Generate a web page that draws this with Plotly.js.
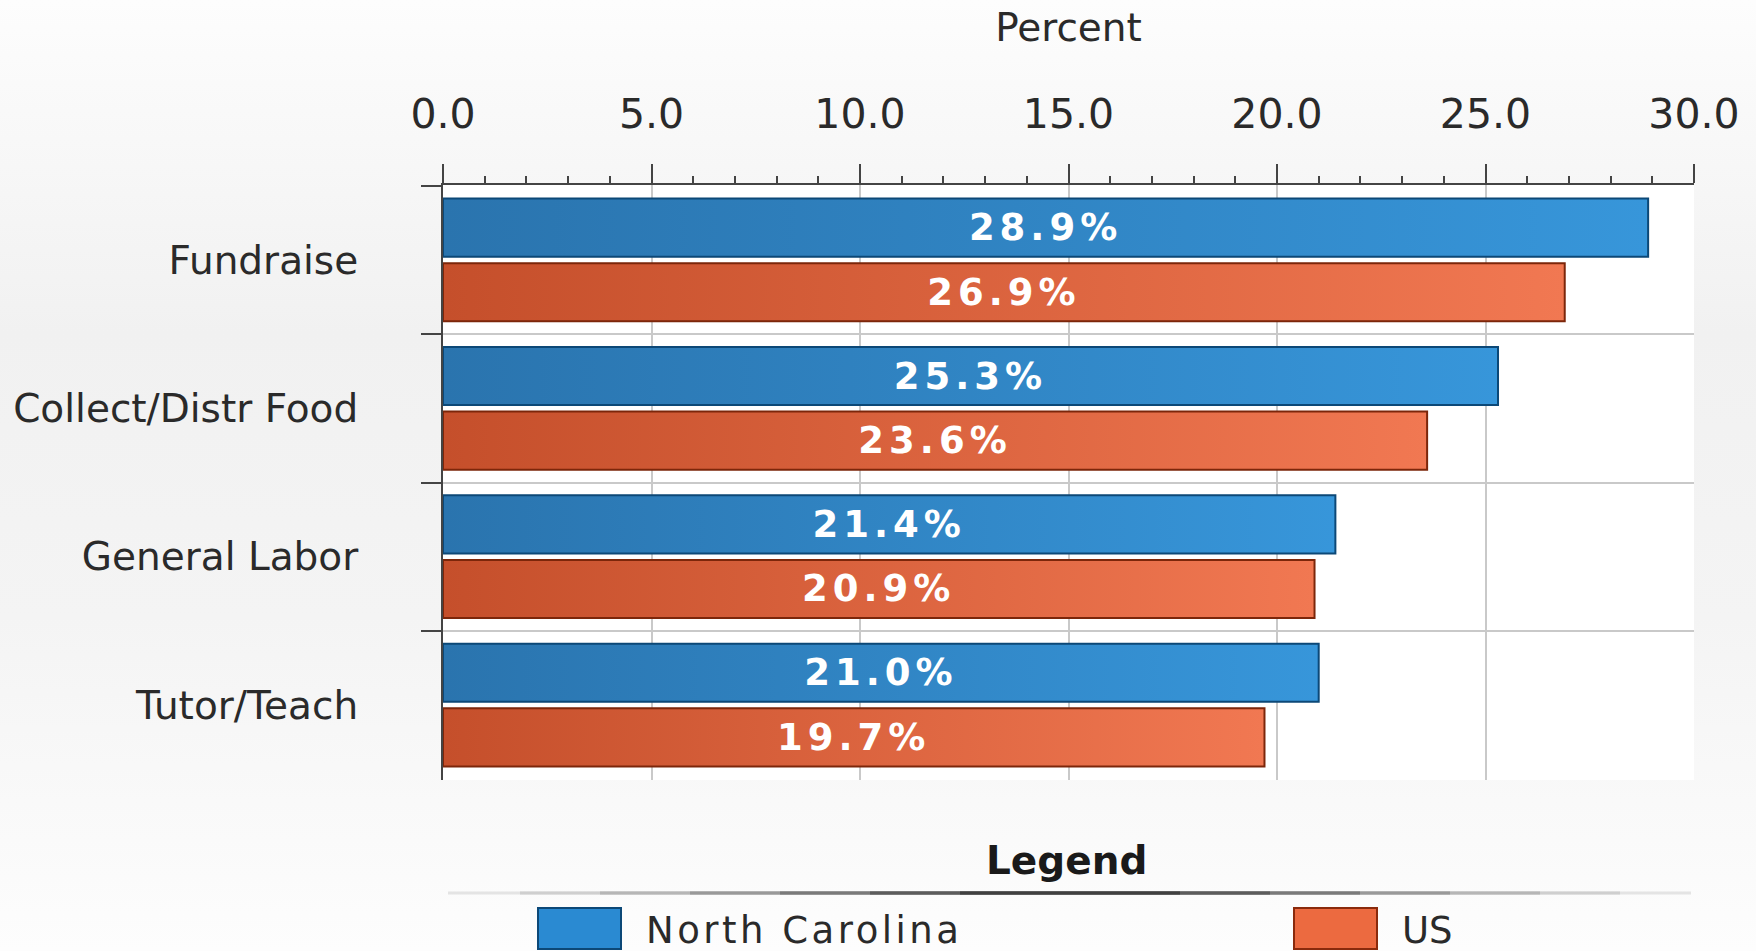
<!DOCTYPE html>
<html>
<head>
<meta charset="utf-8">
<script src="https://cdn.plot.ly/plotly-3.0.1.min.js"></script>
<style>
  html, body { margin: 0; padding: 0; }
  body {
    width: 1756px; height: 951px; overflow: hidden;
    background: linear-gradient(to bottom, #fdfdfd 0%, #f1f1f1 35%, #f4f4f4 65%, #fdfdfd 100%);
  }
  #chart { width: 1756px; height: 951px; }
  .bartext { letter-spacing: 5px; }
  .legendtext { letter-spacing: 3.5px; }
</style>
</head>
<body>
<div id="chart"></div>
<script>
// Volunteer activities: share of volunteers, North Carolina vs. US
const activities = ["Fundraise", "Collect/Distr Food", "General Labor", "Tutor/Teach"];
const northCarolina = [28.9, 25.3, 21.4, 21.0];
const unitedStates = [26.9, 23.6, 20.9, 19.7];
const seriesNames = ["North Carolina", "US"];
const axisTicks = [0, 5, 10, 15, 20, 25, 30];

const FONT = "DejaVu Sans, Verdana, sans-serif";
const W = 1756, H = 951;
const M = { l: 443, r: 62, t: 185, b: 171 };
const plotW = W - M.l - M.r, plotH = H - M.t - M.b;

// pixel position on the page -> paper coordinates of the plot area
const fx = v => (v - M.l) / plotW;
const fy = v => (H - M.b - v) / plotH;

const barText = { family: FONT, size: 37, color: "#ffffff", weight: "bold" };

const blueSeries = {
  type: "bar",
  orientation: "h",
  name: seriesNames[0],
  y: activities,
  x: northCarolina,
  marker: { color: "#3088c9", line: { color: "#0c4877", width: 2 } },
  texttemplate: "%{x:.1f}%",
  textposition: "inside",
  insidetextanchor: "middle",
  textfont: barText,
  legend: "legend",
  hoverinfo: "x+y+name"
};

const orangeSeries = {
  type: "bar",
  orientation: "h",
  name: seriesNames[1],
  y: activities,
  x: unitedStates,
  marker: { color: "#df6640", line: { color: "#7c260a", width: 2 } },
  texttemplate: "%{x:.1f}%",
  textposition: "inside",
  insidetextanchor: "middle",
  textfont: barText,
  legend: "legend2",
  hoverinfo: "x+y+name"
};

const legendBase = {
  orientation: "h",
  xanchor: "left",
  y: fy(929),
  yanchor: "middle",
  bgcolor: "rgba(0,0,0,0)",
  itemwidth: 123,
  font: { family: FONT, size: 37, color: "#2a2a2a" },
  itemclick: false,
  itemdoubleclick: false
};

// rule under the legend heading, darker toward its middle
const ruleSteps = [
  [448, 1691, "#e4e4e4"], [520, 1620, "#cfcfcf"], [600, 1540, "#b6b6b6"],
  [690, 1450, "#999999"], [780, 1360, "#7a7a7a"], [870, 1270, "#5c5c5c"], [960, 1180, "#404040"]
];

const layout = {
  width: W,
  height: H,
  margin: { l: M.l, r: M.r, t: M.t, b: M.b, pad: 0, autoexpand: false },
  paper_bgcolor: "rgba(0,0,0,0)",
  plot_bgcolor: "#ffffff",
  barmode: "group",
  bargap: 0.13,
  bargroupgap: 0.1,
  font: { family: FONT, size: 38, color: "#2a2a2a" },
  xaxis: {
    side: "top",
    range: [0, 30],
    tickvals: axisTicks,
    tickformat: ".1f",
    ticks: "outside",
    ticklen: 19,
    tickwidth: 2,
    tickcolor: "#444444",
    ticklabelstandoff: 20,
    tickfont: { family: FONT, size: 41, color: "#2a2a2a" },
    minor: { dtick: 1, ticks: "outside", ticklen: 7, tickwidth: 2, tickcolor: "#444444", showgrid: false },
    showline: true,
    linecolor: "#444444",
    linewidth: 2,
    showgrid: true,
    gridcolor: "#c9c9c9",
    gridwidth: 2,
    zeroline: false,
    fixedrange: true,
    automargin: false,
    title: { text: "Percent", font: { family: FONT, size: 39, color: "#2a2a2a" }, standoff: 36 }
  },
  yaxis: {
    type: "category",
    range: [3.505, -0.505],
    tickson: "boundaries",
    ticks: "outside",
    ticklen: 20,
    tickwidth: 2,
    tickcolor: "#444444",
    ticklabelstandoff: 75,
    tickfont: { family: FONT, size: 39, color: "#2a2a2a" },
    showline: true,
    linecolor: "#444444",
    linewidth: 2,
    showgrid: true,
    gridcolor: "#c9c9c9",
    gridwidth: 2,
    zeroline: false,
    fixedrange: true,
    automargin: false
  },
  showlegend: true,
  legend: Object.assign({}, legendBase, { x: fx(513) }),
  legend2: Object.assign({}, legendBase, { x: fx(1269) }),
  annotations: [
    {
      xref: "paper", yref: "paper",
      x: fx(1066), y: fy(860),
      xanchor: "center", yanchor: "middle",
      text: "<b>Legend</b>",
      showarrow: false,
      font: { family: FONT, size: 39, color: "#1a1a1a" }
    }
  ],
  shapes: ruleSteps.map(([a, b, c]) => ({
    type: "line", xref: "paper", yref: "paper",
    x0: fx(a), x1: fx(b), y0: fy(893), y1: fy(893),
    line: { color: c, width: 3 }
  }))
};

const config = { displayModeBar: false, responsive: false };

// Shading for each series: darker at the bar's base, lighter at its tip.
const shades = {
  "North Carolina": { id: "shadeNC", from: "#2a74ae", to: "#3796da", legend: "#2a8ad2", edge: "#0c4877" },
  "US": { id: "shadeUS", from: "#c54f2b", to: "#f17852", legend: "#ec6a40", edge: "#8a2a0c" }
};

function traceName(node, fallback) {
  const d = node.__data__;
  if (d && d[0] && d[0].trace) return d[0].trace.name;
  return fallback;
}

function applyShading(gd) {
  const svg = gd.querySelector("svg.main-svg");
  const ns = "http://www.w3.org/2000/svg";
  let defs = svg.querySelector("defs");
  if (!defs) { defs = document.createElementNS(ns, "defs"); svg.insertBefore(defs, svg.firstChild); }
  Object.values(shades).forEach(s => {
    if (svg.querySelector("#" + s.id)) return;
    const g = document.createElementNS(ns, "linearGradient");
    g.setAttribute("id", s.id);
    g.setAttribute("x1", "0"); g.setAttribute("y1", "0");
    g.setAttribute("x2", "1"); g.setAttribute("y2", "0");
    [[0, s.from], [1, s.to]].forEach(([o, c]) => {
      const st = document.createElementNS(ns, "stop");
      st.setAttribute("offset", o);
      st.setAttribute("stop-color", c);
      g.appendChild(st);
    });
    defs.appendChild(g);
  });
  gd.querySelectorAll(".barlayer .trace").forEach((t, i) => {
    const s = shades[traceName(t, seriesNames[i])];
    if (!s) return;
    t.querySelectorAll(".point path").forEach(p => { p.style.fill = "url(#" + s.id + ")"; });
  });
  // Larger legend swatches
  gd.querySelectorAll(".legendpoints").forEach((lp, i) => {
    const host = lp.closest(".traces") || lp;
    const s = shades[traceName(host, seriesNames[i])];
    lp.querySelectorAll("path").forEach(p => {
      p.setAttribute("d", "M-41.5,-20.5H41.5V20.5H-41.5Z");
      if (s) { p.style.fill = s.legend; p.style.stroke = s.edge; p.style.strokeWidth = "2px"; }
    });
  });
}

Plotly.newPlot("chart", [blueSeries, orangeSeries], layout, config).then(applyShading);
</script>
</body>
</html>
